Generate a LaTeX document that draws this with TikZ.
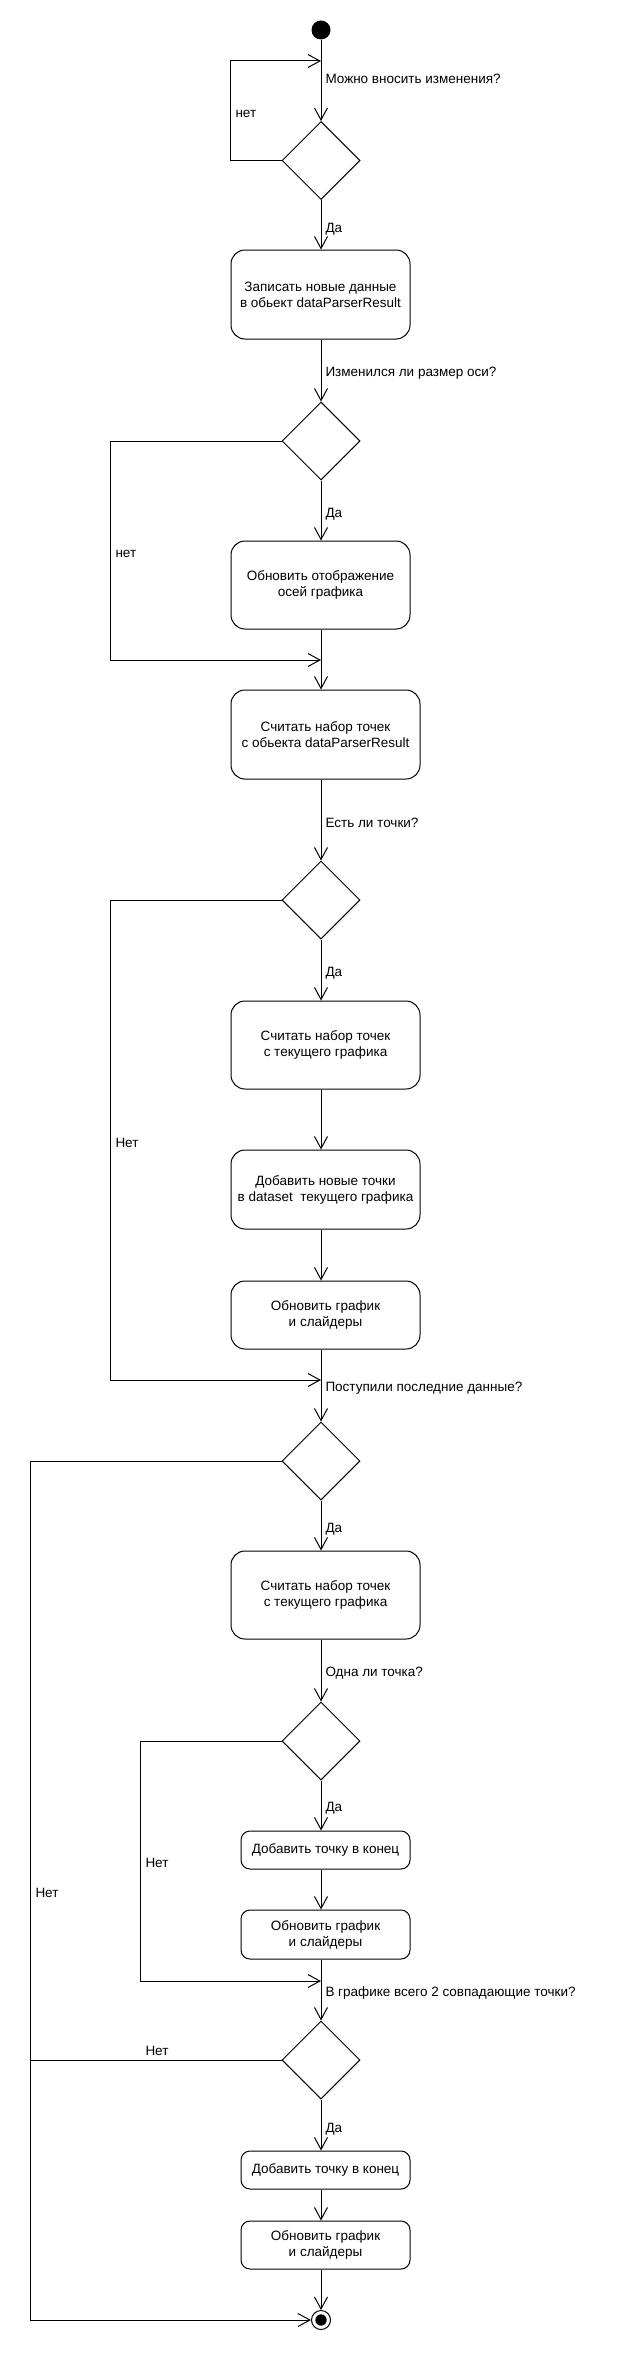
\documentclass[tikz,border=0pt]{standalone}
\usepackage{fontspec}
\setmainfont{Liberation Sans}
\usetikzlibrary{shapes.geometric,arrows.meta}

\begin{document}
\begin{tikzpicture}[x=1pt,y=-1pt,line width=1pt,
  every node/.style={font=\fontsize{13.5}{16}\selectfont},
  action/.style={draw, rounded corners=14pt, align=center, inner sep=0pt},
  small/.style={rounded corners=9pt},
  choice/.style={draw, diamond, minimum width=78pt, minimum height=78pt, inner sep=0pt},
  flow/.style={-{Straight Barb[length=12pt,width=13pt]}},
  lbl/.style={anchor=west, inner sep=0pt}]
\useasboundingbox (0,0) rectangle (620,2360);

% set up coordinates
\coordinate (spine) at (321,0);
\coordinate (rail) at (30,0);
\coordinate (m1) at (321,61);
\coordinate (m2) at (321,660);
\coordinate (m3) at (321,1380);
\coordinate (m5) at (321,1981);

% start and end
\node[circle, fill=black, minimum size=19pt, inner sep=0pt] (s) at (321,30) {};
\node[circle, draw, minimum size=19pt, inner sep=0pt] (e) at (321,2320) {};
\fill (e) circle (5.7pt);

% define decisions
\node[choice] (d1) at (321,160.5) {};
\node[choice] (d2) at (321,441) {};
\node[choice] (d3) at (321,900) {};
\node[choice] (d4) at (321,1461) {};
\node[choice] (d5) at (321,1741) {};
\node[choice] (d6) at (321,2060) {};

% define actions
\node[action, minimum width=179pt, minimum height=89pt] (b1) at (320.5,294.5) {Записать новые данные\\в обьект dataParserResult};
\node[action, minimum width=179pt, minimum height=88pt] (b2) at (320.5,585) {Обновить отображение\\осей графика};
\node[action, minimum width=189pt, minimum height=89pt] (b3) at (325.5,734.5) {Считать набор точек\\с обьекта dataParserResult};
\node[action, minimum width=189pt, minimum height=88pt] (b4) at (325.5,1045) {Считать набор точек\\с текущего графика};
\node[action, minimum width=189pt, minimum height=79pt] (b5) at (325.5,1189.5) {Добавить новые точки\\в dataset~ текущего графика};
\node[action, minimum width=189pt, minimum height=68pt] (b6) at (325.5,1315) {Обновить график\\и слайдеры};
\node[action, minimum width=189pt, minimum height=88pt] (b7) at (325.5,1595) {Считать набор точек\\с текущего графика};
\node[action, small, minimum width=169pt, minimum height=38pt] (b8) at (325.5,1850) {Добавить точку в конец};
\node[action, small, minimum width=169pt, minimum height=49pt] (b9) at (325.5,1934.5) {Обновить график\\и слайдеры};
\node[action, small, minimum width=169pt, minimum height=38pt] (b10) at (325.5,2170) {Добавить точку в конец};
\node[action, small, minimum width=169pt, minimum height=48pt] (b11) at (325.5,2245) {Обновить график\\и слайдеры};

% draw main flow
\draw[flow] (s) -- (d1);
\draw[flow] (d1.south) -- (b1.north -| spine);
\draw[flow] (b1.south -| spine) -- (d2.north);
\draw[flow] (d2.south) -- (b2.north -| spine);
\draw[flow] (b2.south -| spine) -- (b3.north -| spine);
\draw[flow] (b3.south -| spine) -- (d3.north);
\draw[flow] (d3.south) -- (b4.north -| spine);
\draw[flow] (b4.south -| spine) -- (b5.north -| spine);
\draw[flow] (b5.south -| spine) -- (b6.north -| spine);
\draw[flow] (b6.south -| spine) -- (d4.north);
\draw[flow] (d4.south) -- (b7.north -| spine);
\draw[flow] (b7.south -| spine) -- (d5.north);
\draw[flow] (d5.south) -- (b8.north -| spine);
\draw[flow] (b8.south -| spine) -- (b9.north -| spine);
\draw[flow] (b9.south -| spine) -- (d6.north);
\draw[flow] (d6.south) -- (b10.north -| spine);
\draw[flow] (b10.south -| spine) -- (b11.north -| spine);
\draw[flow] (b11.south -| spine) -- (e);

% draw the "no" branches
\draw[flow] (d1.west) -- ++(-51,0) |- (m1);
\draw[flow] (d2.west) -- ++(-171,0) |- (m2);
\draw[flow] (d3.west) -- ++(-171,0) |- (m3);
\draw[flow] (d4.west) -- (d4.west -| rail) |- (e);
\draw[flow] (d5.west) -- ++(-141,0) |- (m5);
\draw (d6.west) -- (d6.west -| rail);

% labels
\node[lbl] (q1) at (325,79) {Можно вносить изменения?};
\node[lbl] (q2) at (325,373) {Изменился ли размер оси?};
\node[lbl] (q3) at (325,823) {Есть ли точки?};
\node[lbl] (q4) at (325,1388) {Поступили последние данные?};
\node[lbl] (q5) at (325,1673) {Одна ли точка?};
\node[lbl] (q6) at (325,1993) {В графике всего 2 совпадающие точки?};
\node[lbl] (y1) at (325,229) {Да};
\node[lbl] (y2) at (325,514) {Да};
\node[lbl] (y3) at (325,973) {Да};
\node[lbl] (y4) at (325,1529) {Да};
\node[lbl] (y5) at (325,1808) {Да};
\node[lbl] (y6) at (325,2129) {Да};
\node[lbl] (n1) at (235,114) {нет};
\node[lbl] (n2) at (115,554) {нет};
\node[lbl] (n3) at (115,1143) {Нет};
\node[lbl] (n4) at (35,1893) {Нет};
\node[lbl] (n5) at (145,1863) {Нет};
\node[lbl] (n6) at (145,2051) {Нет};

\end{tikzpicture}
\end{document}
